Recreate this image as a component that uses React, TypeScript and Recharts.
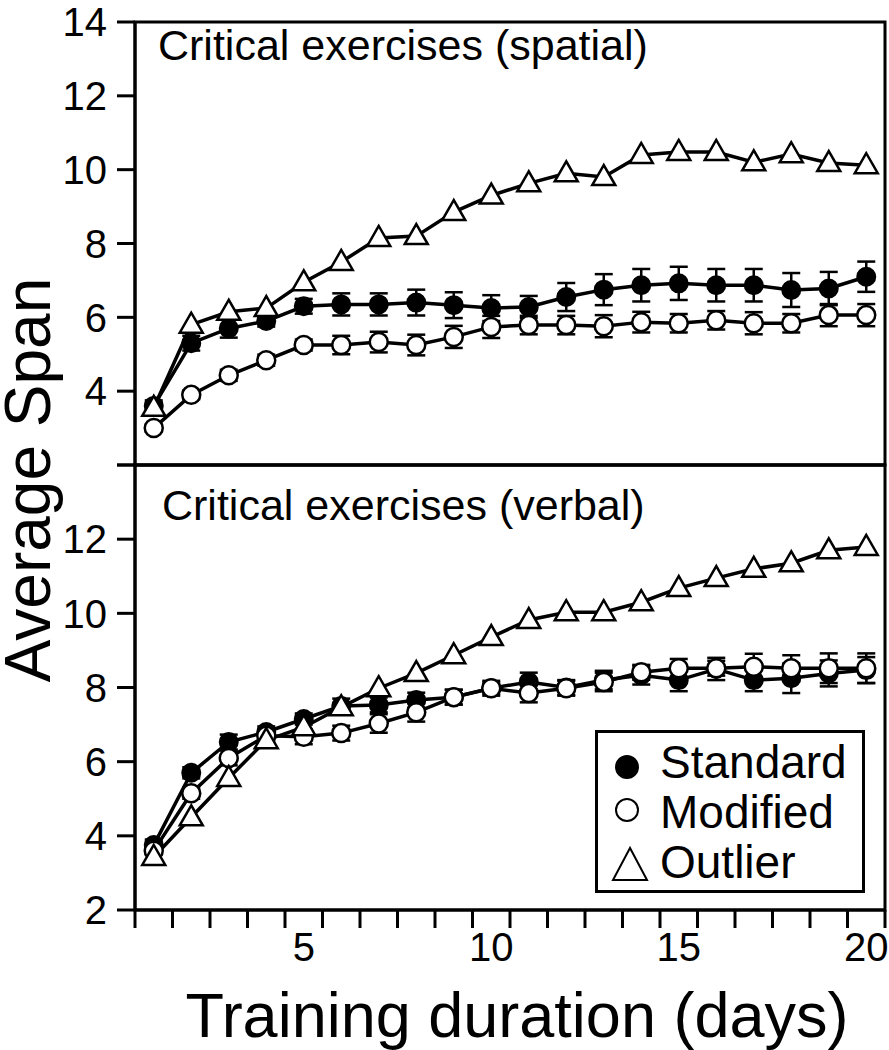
import {
  ErrorBar,
  Label,
  Line,
  LineChart,
  ReferenceArea,
  XAxis,
  YAxis,
} from "recharts";

const FONT = '"Liberation Sans", Arial, sans-serif';

const days = [1, 2, 3, 4, 5, 6, 7, 8, 9, 10, 11, 12, 13, 14, 15, 16, 17, 18, 19, 20];
const dayLabels = [5, 10, 15, 20];
const yTicks = [2, 4, 6, 8, 10, 12, 14];

// spatial panel
const spatialStandard = [3.6, 5.3, 5.7, 5.9, 6.3, 6.35, 6.35, 6.4, 6.33, 6.25, 6.28, 6.55, 6.75, 6.87, 6.92, 6.87, 6.87, 6.74, 6.78, 7.1];
const spatialStandardErr = [0.15, 0.2, 0.25, 0.15, 0.2, 0.3, 0.3, 0.35, 0.35, 0.35, 0.3, 0.38, 0.42, 0.44, 0.45, 0.44, 0.44, 0.46, 0.45, 0.41];
const spatialModified = [3.0, 3.9, 4.43, 4.84, 5.25, 5.25, 5.33, 5.25, 5.47, 5.74, 5.79, 5.79, 5.76, 5.87, 5.84, 5.92, 5.84, 5.84, 6.06, 6.06];
const spatialModifiedErr = [0.1, 0.12, 0.15, 0.15, 0.15, 0.25, 0.28, 0.28, 0.3, 0.3, 0.25, 0.25, 0.3, 0.28, 0.25, 0.25, 0.3, 0.25, 0.3, 0.3];
const spatialOutlier = [3.55, 5.8, 6.15, 6.25, 6.95, 7.5, 8.15, 8.2, 8.85, 9.3, 9.63, 9.9, 9.8, 10.4, 10.48, 10.48, 10.2, 10.42, 10.18, 10.12];

// verbal panel
const verbalStandard = [3.75, 5.7, 6.53, 6.8, 7.15, 7.5, 7.53, 7.66, 7.74, 7.98, 8.15, 8.0, 8.2, 8.33, 8.2, 8.5, 8.2, 8.25, 8.38, 8.47];
const verbalStandardErr = [0.15, 0.15, 0.2, 0.15, 0.15, 0.2, 0.2, 0.2, 0.2, 0.15, 0.25, 0.2, 0.25, 0.25, 0.3, 0.3, 0.3, 0.4, 0.35, 0.35];
const verbalModified = [3.6, 5.15, 6.1, 6.7, 6.67, 6.77, 7.03, 7.33, 7.74, 7.98, 7.85, 7.98, 8.15, 8.41, 8.52, 8.52, 8.56, 8.52, 8.52, 8.52];
const verbalModifiedErr = [0.1, 0.15, 0.2, 0.15, 0.2, 0.2, 0.25, 0.25, 0.2, 0.2, 0.25, 0.2, 0.25, 0.2, 0.25, 0.2, 0.35, 0.35, 0.4, 0.4];
const verbalOutlier = [3.43, 4.5, 5.56, 6.58, 6.93, 7.47, 7.98, 8.39, 8.87, 9.36, 9.82, 10.03, 10.03, 10.3, 10.68, 10.95, 11.2, 11.35, 11.7, 11.79];

const halfTicks = [0.5, ...days.map((d) => d + 0.5)];

function buildRows(std: number[], stdErr: number[], mod: number[], modErr: number[], out: number[]) {
  return days.map((day, i) => ({
    day,
    std: std[i],
    stdErr: stdErr[i],
    mod: mod[i],
    modErr: modErr[i],
    out: out[i],
  }));
}

const spatialRows = buildRows(spatialStandard, spatialStandardErr, spatialModified, spatialModifiedErr, spatialOutlier);
const verbalRows = buildRows(verbalStandard, verbalStandardErr, verbalModified, verbalModifiedErr, verbalOutlier);

function TriangleDot(props: any) {
  const { cx, cy } = props;
  if (cx == null || cy == null) return null;
  return (
    <polygon
      key={props.key ?? `${cx}-${cy}`}
      points={`${cx},${cy - 12} ${cx - 11.5},${cy + 8} ${cx + 11.5},${cy + 8}`}
      fill="#fff"
      stroke="#000"
      strokeWidth={2.5}
    />
  );
}

function BottomTick(props: any) {
  const { x, y, payload } = props;
  const v = payload.value;
  if (Number.isInteger(v)) {
    return (
      <text x={x} y={y + 23} dy="0.71em" textAnchor="middle" fontSize={40} fontFamily={FONT} fill="#000">
        {v}
      </text>
    );
  }
  return <line x1={x} y1={y} x2={x} y2={y + 18} stroke="#000" strokeWidth={3} />;
}

function LegendBox() {
  return (
    <svg width={270} height={163}>
      <rect x={1.5} y={1.5} width={267} height={160} fill="#fff" stroke="#000" strokeWidth={3} />
      <circle cx={32} cy={37} r={11} fill="#000" stroke="#000" strokeWidth={2} />
      <circle cx={32} cy={80} r={11} fill="#fff" stroke="#000" strokeWidth={2} />
      <polygon points="35,118 18,150 52,150" fill="#fff" stroke="#000" strokeWidth={2} />
      <g fontFamily={FONT} fontSize={46} fill="#000">
        <text x={65} y={48}>Standard</text>
        <text x={65} y={98}>Modified</text>
        <text x={65} y={148}>Outlier</text>
      </g>
    </svg>
  );
}

const axisLine = { stroke: "#000", strokeWidth: 3 };
const tickStyle = { fill: "#000", fontSize: 40, fontFamily: FONT };

function renderSeries() {
  return [
    <Line
      key="std"
      dataKey="std"
      type="linear"
      stroke="#000"
      strokeWidth={3.5}
      dot={{ r: 9, fill: "#000", stroke: "#000", strokeWidth: 2 }}
      isAnimationActive={false}
    >
      <ErrorBar dataKey="stdErr" width={9} stroke="#000" strokeWidth={2.5} direction="y" />
    </Line>,
    <Line
      key="mod"
      dataKey="mod"
      type="linear"
      stroke="#000"
      strokeWidth={3.5}
      dot={{ r: 9, fill: "#fff", stroke: "#000", strokeWidth: 2.5 }}
      isAnimationActive={false}
    >
      <ErrorBar dataKey="modErr" width={9} stroke="#000" strokeWidth={2.5} direction="y" />
    </Line>,
    <Line
      key="out"
      dataKey="out"
      type="linear"
      stroke="#000"
      strokeWidth={3.5}
      dot={<TriangleDot />}
      isAnimationActive={false}
    />,
  ];
}

export default function App() {
  return (
    <div style={{ position: "absolute", left: 0, top: 0, width: 889, height: 1050, background: "#fff" }}>
      <div style={{ position: "absolute", left: 0, top: 0 }}>
        <LineChart width={889} height={490} data={spatialRows} margin={{ top: 22, right: 4, bottom: 0, left: 0 }}>
          <XAxis
            dataKey="day"
            type="number"
            domain={[0.5, 20.5]}
            ticks={halfTicks}
            interval={0}
            tick={false}
            tickSize={17}
            tickLine={axisLine}
            axisLine={axisLine}
            height={25}
          />
          <YAxis
            type="number"
            domain={[2, 14]}
            ticks={yTicks}
            interval={0}
            width={135}
            tickSize={18}
            tickMargin={10}
            tickLine={axisLine}
            axisLine={axisLine}
            tick={tickStyle}
            tickFormatter={(v: number) => (v === 2 ? "" : String(v))}
          />
          <ReferenceArea x1={0.5} x2={20.5} y1={2} y2={14} fill="none" stroke="#000" strokeWidth={3} />
          {renderSeries()}
        </LineChart>
      </div>
      <div style={{ position: "absolute", left: 0, top: 440 }}>
        <LineChart width={889} height={610} data={verbalRows} margin={{ top: 25, right: 4, bottom: 0, left: 0 }}>
          <XAxis
            dataKey="day"
            type="number"
            domain={[0.5, 20.5]}
            ticks={[...halfTicks, ...dayLabels]}
            interval={0}
            tick={<BottomTick />}
            tickSize={0}
            tickMargin={0}
            tickLine={false}
            axisLine={axisLine}
            height={140}
          >
            <Label
              value="Training duration (days)"
              position="insideBottom"
              offset={13}
              dx={7}
              style={{ fontSize: 63, fontFamily: FONT, fill: "#000" }}
            />
          </XAxis>
          <YAxis
            type="number"
            domain={[2, 14]}
            ticks={yTicks}
            interval={0}
            width={135}
            tickSize={18}
            tickMargin={10}
            tickLine={axisLine}
            axisLine={axisLine}
            tick={tickStyle}
            tickFormatter={(v: number) => (v === 14 ? "" : String(v))}
          />
          <ReferenceArea x1={0.5} x2={20.5} y1={2} y2={14} fill="none" stroke="#000" strokeWidth={3} />
          {renderSeries()}
        </LineChart>
      </div>
      <div style={{ position: "absolute", left: 595, top: 730 }}>
        <LegendBox />
      </div>
      <svg
        width={889}
        height={1050}
        style={{ position: "absolute", left: 0, top: 0, pointerEvents: "none" }}
      >
        <g fontFamily={FONT} fill="#000">
          <text x={158} y={60} fontSize={43}>
            Critical exercises (spatial)
          </text>
          <text x={162} y={520} fontSize={43}>
            Critical exercises (verbal)
          </text>
          <text x={50} y={480} fontSize={64} textAnchor="middle" transform="rotate(-90 50 480)">
            Average Span
          </text>
        </g>
      </svg>
    </div>
  );
}
